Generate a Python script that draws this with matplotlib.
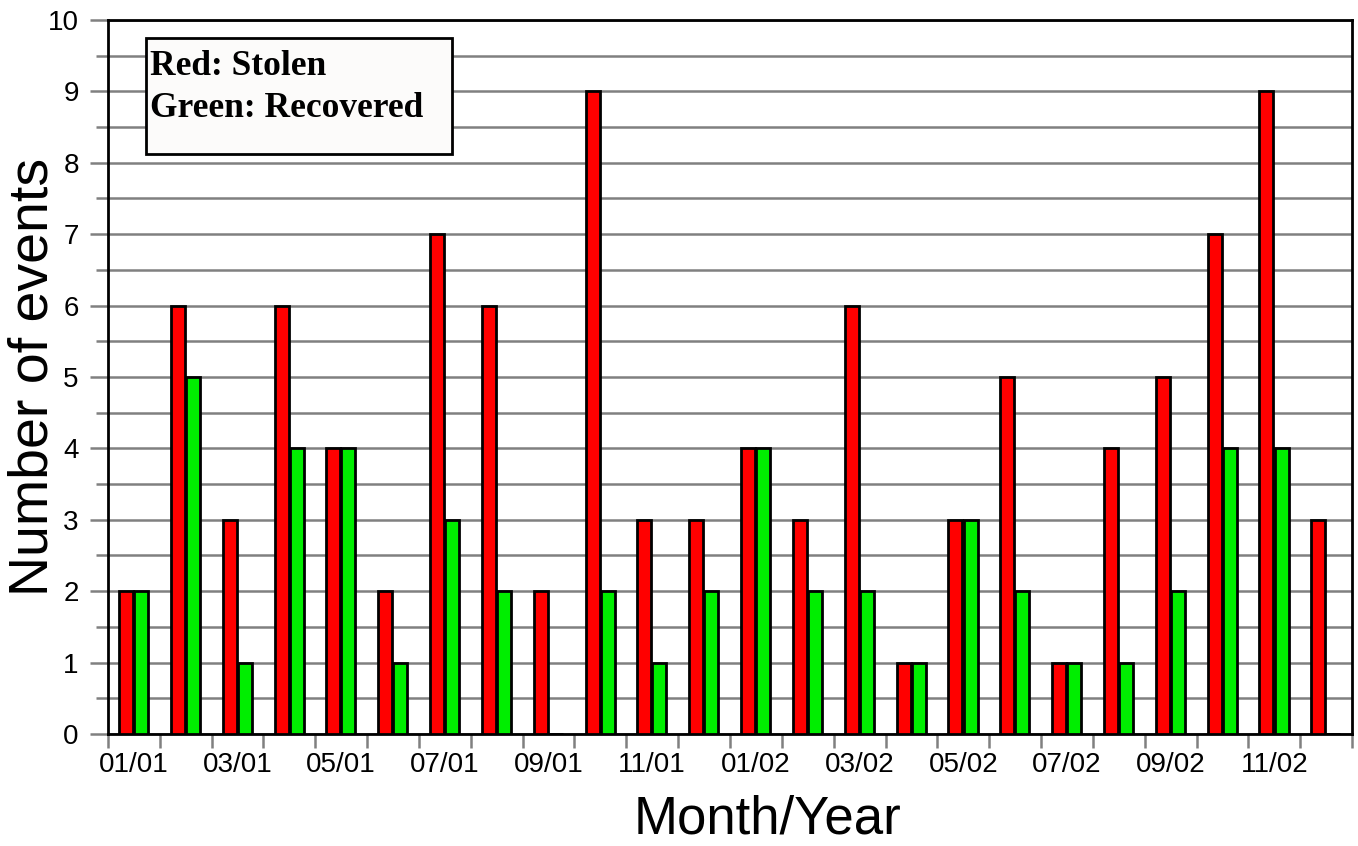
import numpy as np
import matplotlib
matplotlib.use('Agg')
import matplotlib.pyplot as plt
from matplotlib.patches import Rectangle

plt.rcParams['font.family'] = ['Liberation Sans', 'DejaVu Sans']

# monthly counts, 01/01 .. 12/02
months = ['01/01', '02/01', '03/01', '04/01', '05/01', '06/01',
          '07/01', '08/01', '09/01', '10/01', '11/01', '12/01',
          '01/02', '02/02', '03/02', '04/02', '05/02', '06/02',
          '07/02', '08/02', '09/02', '10/02', '11/02', '12/02']
stolen = [2, 6, 3, 6, 4, 2, 7, 6, 2, 9, 3, 3,
          4, 3, 6, 1, 3, 5, 1, 4, 5, 7, 9, 3]
recovered = [2, 5, 1, 4, 4, 1, 3, 2, 0, 2, 1, 2,
             4, 2, 2, 1, 3, 2, 1, 1, 2, 4, 4, 0]

fig = plt.figure(figsize=(13.58, 8.46), dpi=100)
ax = fig.add_axes([0.0795, 0.1324, 0.9161, 0.844])

x = np.arange(len(months))
w = 0.27
ax.bar(x - 0.15, stolen, w, color='#ff0000', edgecolor='black', linewidth=2, zorder=3)
ax.bar(x + 0.14, recovered, w, color='#00ee00', edgecolor='black', linewidth=2, zorder=3)

ax.set_xlim(-0.5, len(months) - 0.5)
ax.set_ylim(0, 10)

# y axis: grey grid every 0.5 with ticks poking out to the left
ax.set_yticks(np.arange(0, 11, 1))
ax.set_yticks(np.arange(0.5, 10, 1), minor=True)
ax.yaxis.grid(True, which='both', color='#808080', linewidth=1.8, zorder=0)
ax.tick_params(axis='y', which='major', length=13, width=1.8, color='#808080',
               labelsize=20, pad=8)
ax.tick_params(axis='y', which='minor', length=8.5, width=1.8, color='#808080')

# x axis: grey ticks at month boundaries, labels every other month
ax.set_xticks(x[::2])
ax.set_xticklabels(months[::2])
ax.set_xticks(np.arange(-0.5, len(months), 1), minor=True)
ax.tick_params(axis='x', which='major', length=0, labelsize=20, pad=13)
ax.tick_params(axis='x', which='minor', length=10, width=1.8, color='#808080')

for s in ax.spines.values():
    s.set_linewidth(2)
    s.set_color('black')

ax.set_ylabel('Number of events', fontsize=40)
ax.yaxis.set_label_coords(-0.0595, 0.5)
ax.yaxis.label.set_va('center')

ax.set_xlabel('Month/Year', fontsize=38)
ax.xaxis.set_label_coords(0.5305, -0.140)
ax.xaxis.label.set_va('baseline')

# text "legend" box
fig.patches.append(Rectangle((0.1075, 0.818), 0.2253, 0.137, transform=fig.transFigure,
                             facecolor='#fcfbfa', edgecolor='black', linewidth=2, zorder=5))
fig.text(0.1105, 0.9113, 'Red: Stolen', family='Liberation Serif', weight='bold',
         fontsize=25.5, zorder=6)
fig.text(0.1105, 0.8617, 'Green: Recovered', family='Liberation Serif', weight='bold',
         fontsize=25.5, zorder=6)

fig.savefig('out.png', dpi=100)
